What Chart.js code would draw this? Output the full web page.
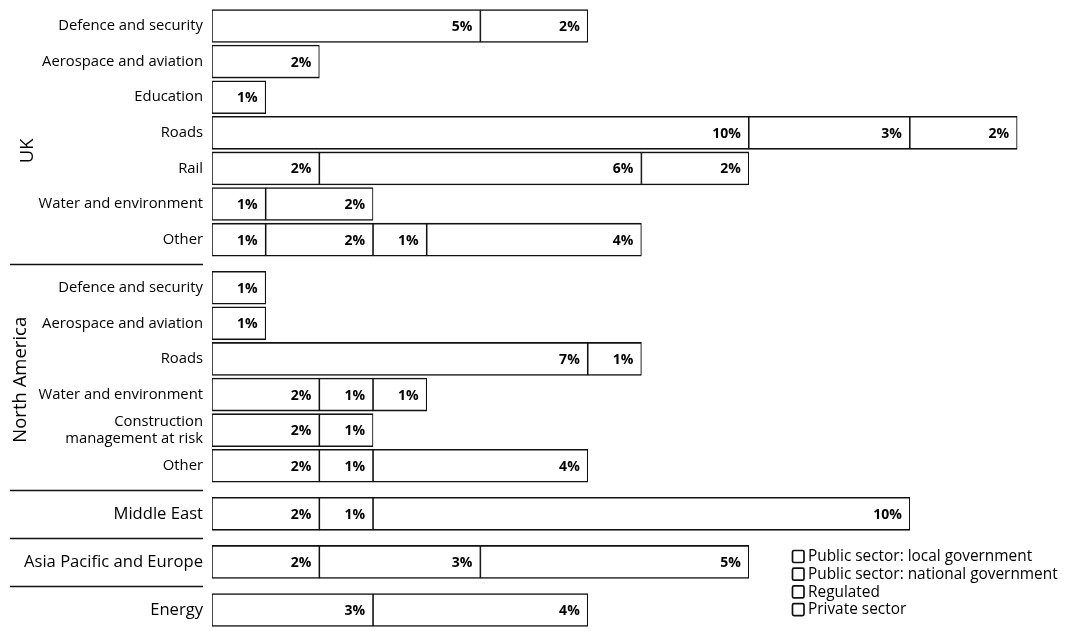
<!DOCTYPE html>
<html>
<head>
<meta charset="utf-8">
<script src="https://cdn.jsdelivr.net/npm/chart.js@4/dist/chart.umd.min.js"></script>
<style>
  html, body { margin: 0; padding: 0; background: #fff; }
  #wrap { position: relative; width: 1065px; height: 631px; }
</style>
</head>
<body>
<div id="wrap"><canvas id="chart"></canvas></div>
<script>
// Row labels, top to bottom
const categories = [
  'Defence and security', 'Aerospace and aviation', 'Education', 'Roads', 'Rail',
  'Water and environment', 'Other',
  'Defence and security', 'Aerospace and aviation', 'Roads', 'Water and environment',
  ['Construction', 'management at risk'], 'Other',
  'Middle East', 'Asia Pacific and Europe', 'Energy'
];
// Region each row belongs to
const groups = [
  'UK', 'UK', 'UK', 'UK', 'UK', 'UK', 'UK',
  'North America', 'North America', 'North America', 'North America', 'North America', 'North America',
  'Middle East', 'Asia Pacific and Europe', 'Energy'
];
// Share of revenue (%) by client type
const seriesNames = [
  'Public sector: local government',
  'Public sector: national government',
  'Regulated',
  'Private sector'
];
const localGov    = [null, null, 1, 10, 2, 1, 1,   null, null, 7, 2, 2, 2,   2, 2, null];
const nationalGov = [5, 2, null, 3, 6, null, 2,    1, 1, 1, null, 1, 1,      1, 3, 3];
const regulated   = [null, null, null, null, 2, 2, 1,  null, null, null, 1, null, null,  null, null, null];
const privateSec  = [2, null, null, 2, null, null, 4,  null, null, null, 1, null, 4,    10, 5, 4];

const FONT = '"Open Sans", "Noto Sans", sans-serif';
const GROUP_GAP = 0.35;

// Vertical position of each row: one unit per row plus a gap between regions
const groupOrder = [...new Set(groups)];
const rowPos = groups.map((g, i) => i + groupOrder.indexOf(g) * GROUP_GAP);
const groupSize = g => groups.filter(x => x === g).length;

function toPoints(values) {
  const pts = [];
  values.forEach((v, i) => { if (v !== null) pts.push({ x: v, y: rowPos[i] }); });
  return pts;
}

const seriesValues = [localGov, nationalGov, regulated, privateSec];
const datasets = seriesValues.map((vals, k) => ({
  label: seriesNames[k],
  data: toPoints(vals),
  backgroundColor: '#ffffff',
  borderColor: '#111111',
  borderWidth: { top: 1.6, bottom: 1.6, left: 1.1, right: 1.1 },
  borderSkipped: false,
  barThickness: 33
}));

// Value labels inside each segment, right aligned
const valueLabels = {
  id: 'valueLabels',
  afterDatasetsDraw(chart) {
    const ctx = chart.ctx;
    ctx.save();
    ctx.font = 'bold 14px ' + FONT;
    ctx.fillStyle = '#000';
    ctx.textAlign = 'right';
    ctx.textBaseline = 'middle';
    chart.data.datasets.forEach((ds, i) => {
      chart.getDatasetMeta(i).data.forEach((el, j) => {
        ctx.fillText(ds.data[j].x + '%', el.x - 8, el.y + 1);
      });
    });
    ctx.restore();
  }
};

// Region titles (rotated, for multi-row regions) and the rules separating regions
const titleShift = { 'UK': 18, 'North America': 3 };
const regionDecor = {
  id: 'regionDecor',
  afterDraw(chart) {
    const ctx = chart.ctx;
    const y = chart.scales.y;
    ctx.save();
    ctx.strokeStyle = '#111';
    ctx.lineWidth = 1.5;
    ctx.fillStyle = '#000';
    groupOrder.forEach((g, gi) => {
      const idx = groups.map((x, i) => x === g ? i : -1).filter(i => i >= 0);
      const first = idx[0], last = idx[idx.length - 1];
      if (gi < groupOrder.length - 1) {
        const next = groups.indexOf(groupOrder[gi + 1]);
        const yy = Math.round((y.getPixelForValue(rowPos[last]) + y.getPixelForValue(rowPos[next])) / 2) + 0.5;
        ctx.beginPath();
        ctx.moveTo(10, yy);
        ctx.lineTo(203, yy);
        ctx.stroke();
      }
      if (groupSize(g) > 1) {
        const cy = (y.getPixelForValue(rowPos[first]) + y.getPixelForValue(rowPos[last])) / 2 + (titleShift[g] || 0);
        ctx.save();
        ctx.translate(g.length > 3 ? 21 : 28, cy);
        ctx.rotate(-Math.PI / 2);
        ctx.font = '18.5px ' + FONT;
        ctx.textAlign = 'center';
        ctx.textBaseline = 'middle';
        ctx.fillText(g, 0, 0);
        ctx.restore();
      }
    });
    ctx.restore();
  }
};

// Legend with open boxes, bottom right
const boxLegend = {
  id: 'boxLegend',
  afterDraw(chart) {
    const ctx = chart.ctx;
    ctx.save();
    ctx.font = '15.4px ' + FONT;
    ctx.textAlign = 'left';
    ctx.textBaseline = 'middle';
    ctx.fillStyle = '#000';
    ctx.strokeStyle = '#111';
    ctx.lineWidth = 1.7;
    chart.data.datasets.forEach((ds, i) => {
      const cy = 557 + i * 17.7;
      ctx.beginPath();
      ctx.roundRect(792.5, cy - 6.5, 11.5, 12, 1.5);
      ctx.stroke();
      ctx.fillText(ds.label, 808, cy);
    });
    ctx.restore();
  }
};

new Chart(document.getElementById('chart'), {
  type: 'bar',
  data: { datasets },
  options: {
    indexAxis: 'y',
    responsive: true,
    maintainAspectRatio: false,
    animation: false,
    layout: { padding: { left: 0, right: 21, top: 0, bottom: 0 } },
    plugins: { legend: { display: false }, tooltip: { enabled: false } },
    scales: {
      x: {
        type: 'linear', stacked: true, min: 0, max: 15.5,
        display: false
      },
      y: {
        type: 'linear', stacked: true, reverse: true, offset: false,
        min: -0.73, max: rowPos[rowPos.length - 1] + 0.59,
        grid: { display: false, drawTicks: false },
        border: { display: false },
        afterBuildTicks(scale) {
          scale.ticks = rowPos.map(v => ({ value: v }));
        },
        afterFit(scale) {
          scale.width = 212;
          scale.paddingTop = 0;
          scale.paddingBottom = 0;
        },
        ticks: {
          autoSkip: false,
          padding: 9,
          color: '#000',
          callback: (value, index) => categories[index],
          font: ctx => ({
            family: FONT,
            size: groupSize(groups[ctx.index]) > 1 ? 14.8 : 16.6,
            lineHeight: 1.15
          })
        }
      }
    }
  },
  plugins: [valueLabels, regionDecor, boxLegend]
});
</script>
</body>
</html>
